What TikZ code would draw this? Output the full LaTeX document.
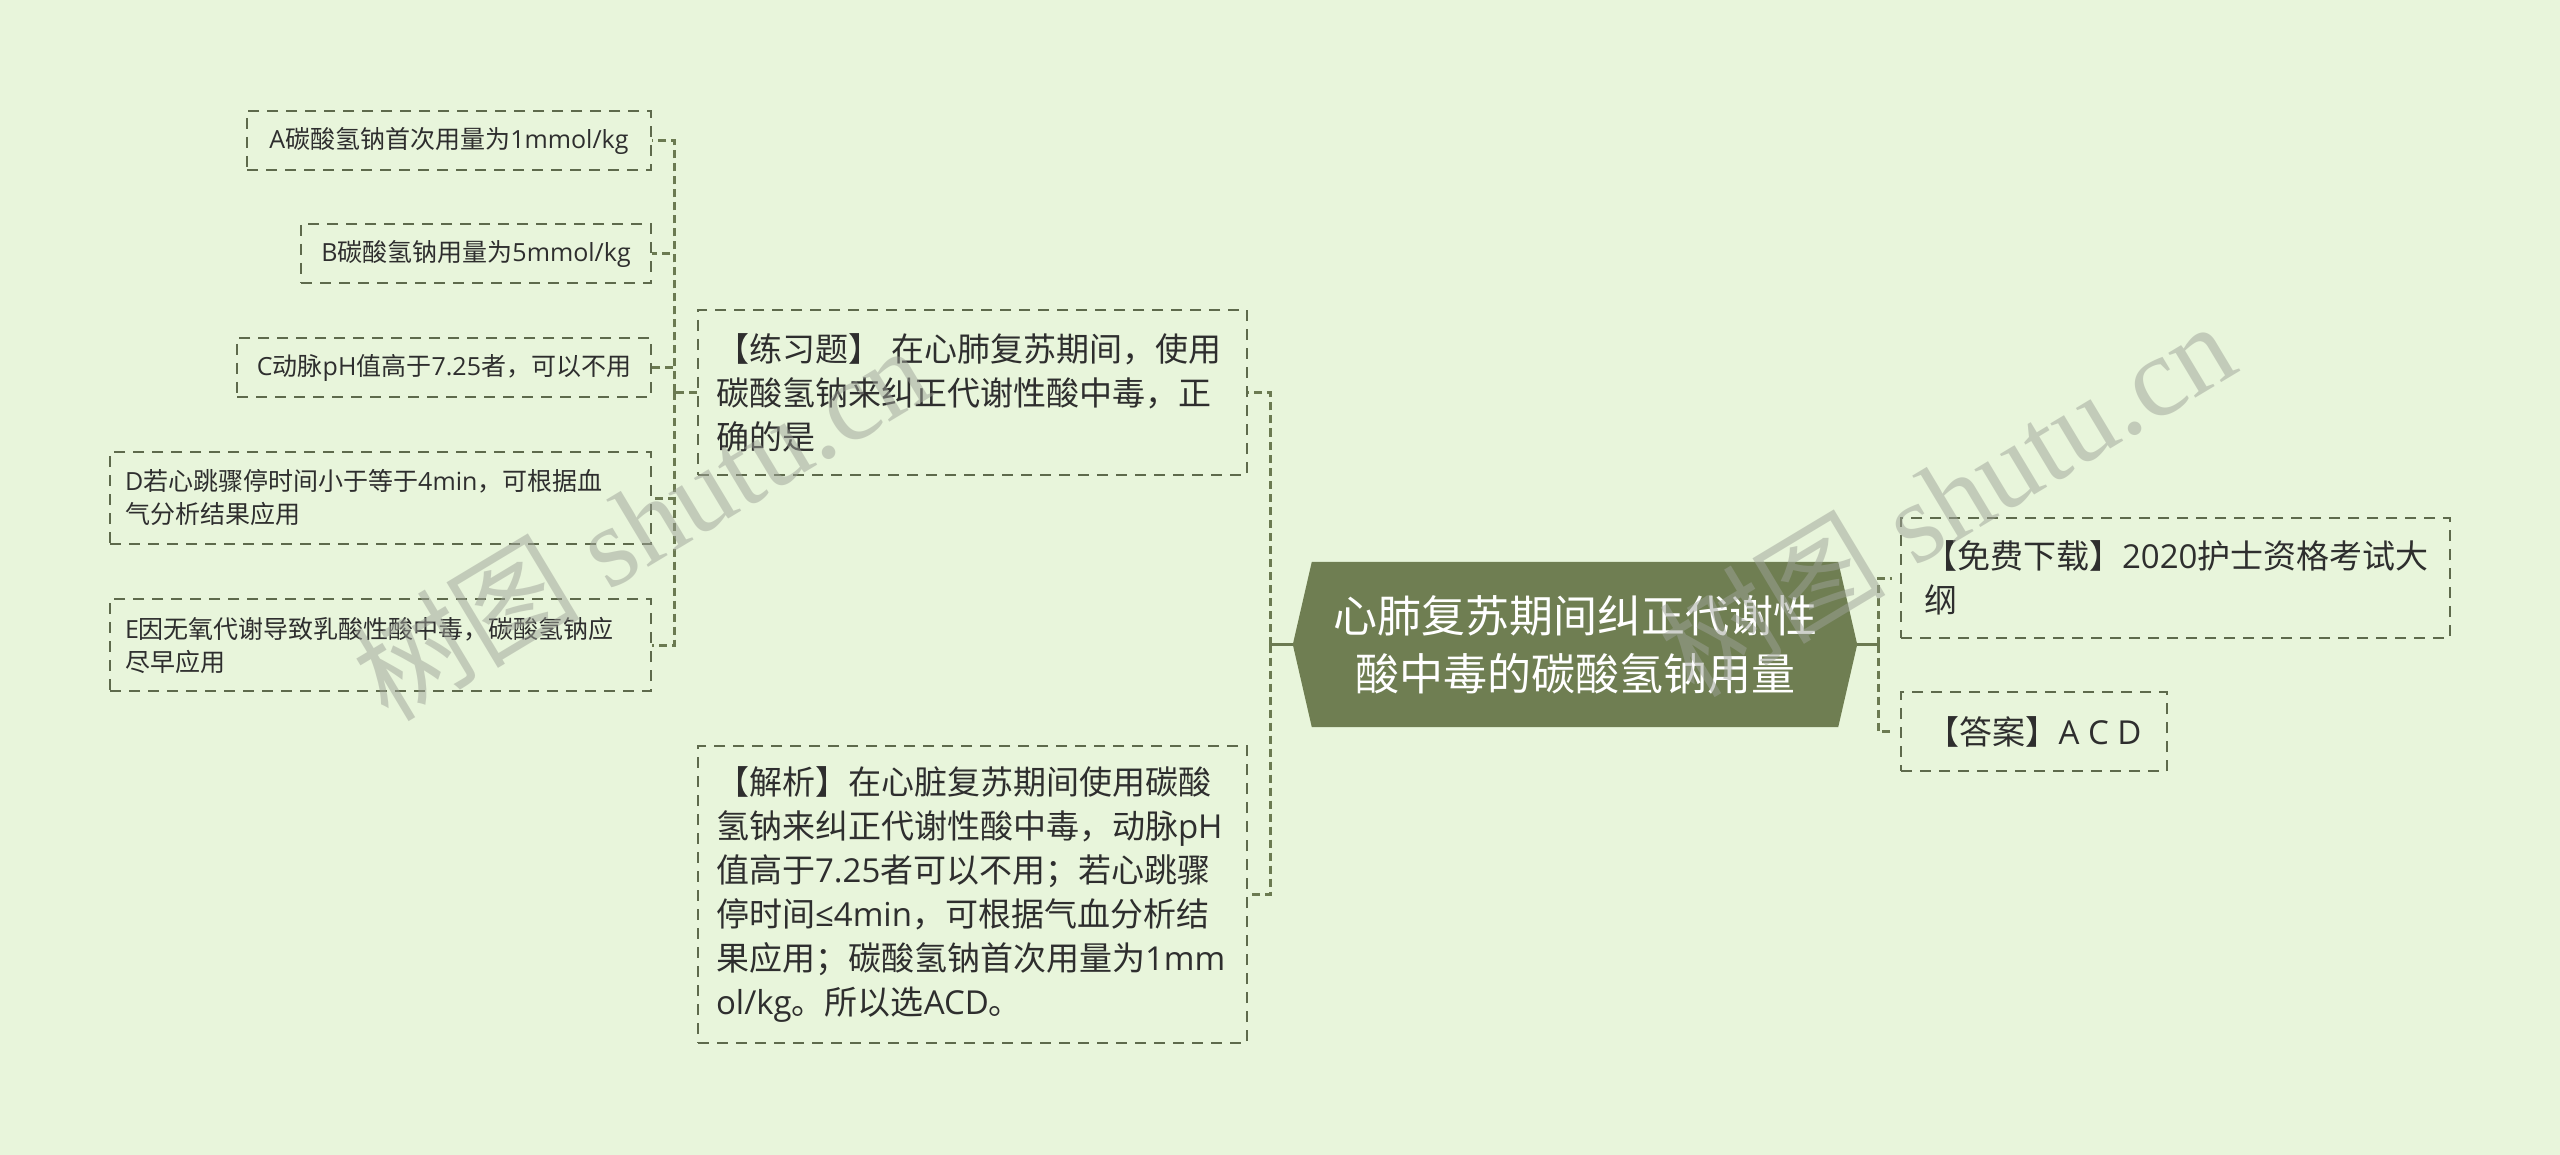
\documentclass[tikz,border=0pt]{standalone}
\usepackage{fontspec}
\setmainfont{Noto Sans CJK SC}
\newfontfamily\latfont{Open Sans}
\newfontfamily\wmfont{Liberation Serif}
\newfontfamily\wmcjk{Noto Sans CJK SC}
\newcommand\lfx[1]{{\latfont #1}}
\definecolor{bgc}{HTML}{E8F5DB}
\definecolor{rootc}{HTML}{6F7E52}
\definecolor{linec}{HTML}{6B7A51}
\definecolor{boxc}{HTML}{5E6A4C}
\definecolor{txtc}{HTML}{2E2E2E}
\definecolor{wmc}{HTML}{9EA398}
\tikzset{
  leafbox/.style={draw=boxc, line width=2pt, dash pattern=on 11pt off 8pt,
    text=txtc, inner xsep=15pt, inner ysep=0pt, align=left,
    font=\fontsize{25}{33}\selectfont},
  bigbox/.style={draw=boxc, line width=2pt, dash pattern=on 11pt off 8pt,
    text=txtc, inner xsep=18pt, inner ysep=0pt, align=left,
    font=\fontsize{33}{44}\selectfont},
  conn/.style={draw=linec, line width=3pt, dash pattern=on 8pt off 5pt},
  stub/.style={draw=linec, line width=3pt},
  wm/.style={text=wmc, text opacity=0.5, font=\wmfont\fontsize{114}{114}\selectfont, inner sep=0pt},
}
\begin{document}
\begin{tikzpicture}[x=1pt,y=-1pt]
\useasboundingbox (0,0) rectangle (2560,1155);
\fill[bgc] (0,0) rectangle (2560,1155);

% central node
\node[minimum width=564pt, minimum height=165pt, inner sep=0pt] (root) at (1575,644.5) {};
\fill[rootc] (root.west) -- ([xshift=19pt]root.north west) -- ([xshift=-19pt]root.north east)
  -- (root.east) -- ([xshift=-19pt]root.south east) -- ([xshift=19pt]root.south west) -- cycle;
\node[text=white, align=center, font=\fontsize{44}{58}\selectfont, inner sep=0pt] (roottxt) at (1575,644.5)
  {心肺复苏期间纠正代谢性\\酸中毒的碳酸氢钠用量};

% left big boxes
\node[bigbox, minimum width=549pt, minimum height=165pt, text width=513pt] (q) at (972.5,392.5)
  {【练习题】 在心肺复苏期间，使用\\碳酸氢钠来纠正代谢性酸中毒，正\\确的是};
\node[bigbox, minimum width=549pt, minimum height=297pt, text width=513pt] (j) at (972.5,894.5)
  {【解析】在心脏复苏期间使用碳酸\\氢钠来纠正代谢性酸中毒，动脉\lfx{pH}\\值高于\lfx{7.25}者可以不用；若心跳骤\\停时间\lfx{≤4min}，可根据气血分析结\\果应用；碳酸氢钠首次用量为\lfx{1mm}\\\lfx{ol/kg}。所以选\lfx{ACD}。};

% leaf boxes
\node[leafbox, minimum width=404pt, minimum height=59pt, align=center] (a) at (449,140.5)
  {\lfx{A}碳酸氢钠首次用量为\lfx{1mmol/kg}};
\node[leafbox, minimum width=350pt, minimum height=59pt, align=center] (b) at (476,253.5)
  {\lfx{B}碳酸氢钠用量为\lfx{5mmol/kg}};
\node[leafbox, minimum width=414pt, minimum height=59pt, align=center] (c) at (444,367.5)
  {\lfx{C}动脉\lfx{pH}值高于\lfx{7.25}者，可以不用};
\node[leafbox, minimum width=541pt, minimum height=92pt, text width=511pt] (d) at (380.5,498)
  {\lfx{D}若心跳骤停时间小于等于\lfx{4min}，可根据血\\气分析结果应用};
\node[leafbox, minimum width=541pt, minimum height=92pt, text width=511pt] (e) at (380.5,645)
  {\lfx{E}因无氧代谢导致乳酸性酸中毒，碳酸氢钠应\\尽早应用};

% right boxes
\node[bigbox, minimum width=549pt, minimum height=120pt, text width=503pt, inner xsep=23pt] (f) at (2175.5,578)
  {【免费下载】\lfx{2020}护士资格考试大\\纲};
\node[bigbox, minimum width=266pt, minimum height=79pt, align=center] (g) at (2034,731.5)
  {【答案】\lfx{A C D}};

% connectors
\coordinate (lj) at (1270,644.5);
\coordinate (rj) at (1878,644.5);
\coordinate (qj) at (674,392.5);
\draw[stub] (root.west) -- (lj);
\draw[stub] (root.east) -- (rj);
\draw[conn] (lj) |- (q.east);
\draw[conn] (lj) |- (j.east);
\draw[conn, shorten >=8pt] (rj) |- (f.west);
\draw[conn, shorten >=8pt] (rj) |- (g.west);
\draw[conn] (q.west) -- (qj);
\foreach \n in {a,b,c,d,e} { \draw[conn] (qj) |- (\n.east); }

% watermarks
\node[wm, rotate=31] (wm1) at (640,522) {{\wmcjk 树图} shutu.cn};
\node[wm, rotate=31] (wm2) at (1946,498) {{\wmcjk 树图} shutu.cn};
\end{tikzpicture}
\end{document}
